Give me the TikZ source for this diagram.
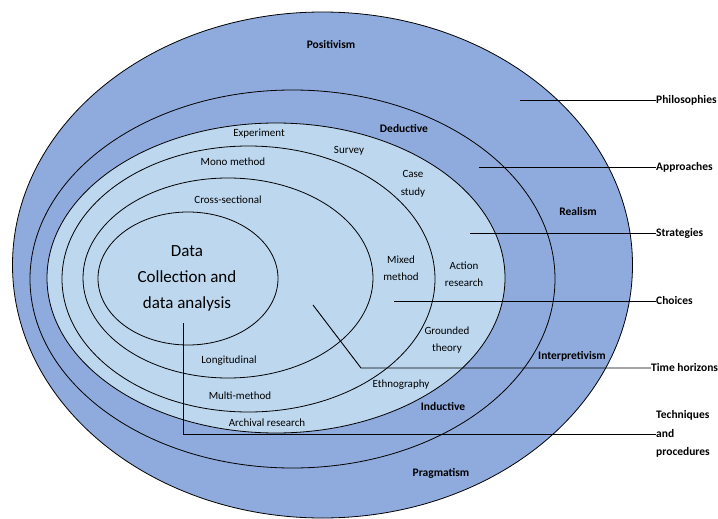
\documentclass[tikz,border=0pt]{standalone}
\usepackage{fontspec}
\setmainfont{Carlito}
\usepackage{xcolor}
\usepackage{tikz}
\definecolor{outerblue}{HTML}{8FAADC}
\definecolor{innerblue}{HTML}{BDD7EE}

\begin{document}
\begin{tikzpicture}[x=1pt,y=1pt]
                \tikzstyle{every node}+=[inner sep=0pt]
                \tikzstyle{ring}=[draw=black, line width=0.8pt]
                \tikzstyle{lead}=[draw=black, line width=0.9pt]
                \tikzstyle{layer}=[font=\fontsize{11.5}{14}\selectfont\bfseries]
                \tikzstyle{item}=[font=\fontsize{11}{17.5}\selectfont, align=center]
                \tikzstyle{tag}=[font=\fontsize{11.5}{18.5}\selectfont\bfseries, anchor=west, align=left]
                \useasboundingbox (0,0) rectangle (718,-519);
                % rings, outside in
                \filldraw [ring, fill=outerblue] (322.5,-265) ellipse [x radius=310, y radius=253];
                \filldraw [ring, fill=outerblue] (292.5,-279) ellipse [x radius=262.5, y radius=189];
                \filldraw [ring, fill=innerblue] (276,-278) ellipse [x radius=229, y radius=155];
                \draw [ring] (248.5,-279) ellipse [x radius=186.5, y radius=133];
                \draw [ring] (228,-278) ellipse [x radius=145, y radius=100];
                \draw [ring] (188,-278.5) ellipse [x radius=90, y radius=66.5];
                % layer names
                \node [layer] (positivism) at (331,-45) {Positivism};
                \node [layer] (deductive) at (404,-128) {Deductive};
                \node [layer] (realism) at (578,-212) {Realism};
                \node [layer] (interpretivism) at (572,-356) {Interpretivism};
                \node [layer] (inductive) at (443,-406) {Inductive};
                \node [layer] (pragmatism) at (441,-473) {Pragmatism};
                \node [item] (experiment) at (259,-134) {Experiment};
                \node [item] (survey) at (349,-151) {Survey};
                \node [item] (casestudy) at (413,-184) {Case\\study};
                \node [item] (mono) at (233,-162) {Mono method};
                \node [item] (cross) at (228,-200) {Cross-sectional};
                \node [item] (mixed) at (401,-268) {Mixed\\method};
                \node [item] (action) at (464,-274) {Action\\research};
                \node [item] (grounded) at (447,-340) {Grounded\\theory};
                \node [item] (longitudinal) at (229,-361) {Longitudinal};
                \node [item] (multi) at (240,-396) {Multi-method};
                \node [item] (archival) at (267,-423) {Archival research};
                \node [item] (ethno) at (401,-385) {Ethnography};
                \node [font=\fontsize{17}{26}\selectfont, align=center] (core) at (187,-278) {Data\\Collection and\\data analysis};
                % right hand tags
                \node [tag] (philo) at (656,-100) {Philosophies};
                \node [tag] (approach) at (656,-167) {Approaches};
                \node [tag] (strat) at (656,-233) {Strategies};
                \node [tag] (choice) at (656,-301) {Choices};
                \node [tag] (horizon) at (651,-368) {Time horizons};
                \node [tag] (tech) at (656,-434) {Techniques\\and\\procedures};
                \coordinate (philo-pt) at (520,-100);
                \coordinate (approach-pt) at (479,-167);
                \coordinate (strat-pt) at (470,-233);
                \coordinate (choice-pt) at (394,-301);
                \coordinate (horizon-pt) at (313,-305);
                \coordinate (horizon-bend) at (361,-368);
                \coordinate (tech-pt) at (183,-323);
                \coordinate (tech-bend) at (183,-434);
                \draw [lead] (philo-pt) -- (philo.west);
                \draw [lead] (approach-pt) -- (approach.west);
                \draw [lead] (strat-pt) -- (strat.west);
                \draw [lead] (choice-pt) -- (choice.west);
                \draw [lead] (horizon-pt) -- (horizon-bend) -- (horizon.west);
                \draw [lead] (tech-pt) -- (tech-bend) -- (tech.west);
\end{tikzpicture}
\end{document}
